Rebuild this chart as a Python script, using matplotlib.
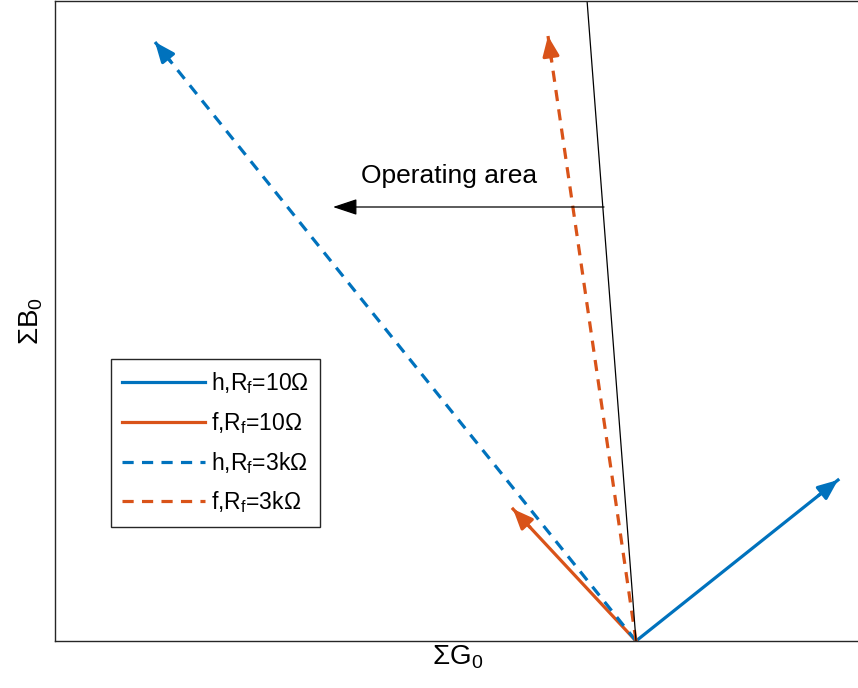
import numpy as np
import matplotlib
matplotlib.use('Agg')
import matplotlib.pyplot as plt

plt.rcParams['font.family'] = ['Liberation Sans', 'DejaVu Sans']
plt.rcParams['mathtext.fontset'] = 'custom'
plt.rcParams['mathtext.rm'] = 'Liberation Sans'
plt.rcParams['mathtext.it'] = 'Liberation Sans'

# vector tips (origin at 0,0), arbitrary units
LABELS = ['h,R$_\\mathrm{f}$=10\u03a9', 'f,R$_\\mathrm{f}$=10\u03a9',
          'h,R$_\\mathrm{f}$=3k\u03a9', 'f,R$_\\mathrm{f}$=3k\u03a9']
TIP_X = [2.02, -1.23, -4.81, -0.88]
TIP_Y = [1.61, 1.32, 5.99, 6.05]
COLORS = ['#0072BD', '#D95319', '#0072BD', '#D95319']
STYLES = ['-', '-', '--', '--']

# boundary line and operating area arrow
BOUND_X = [0.0, -0.49]
BOUND_Y = [0.0, 6.41]
AREA_START = (-0.32, 4.34)
AREA_END = (-3.03, 4.34)
AREA_TEXT = (-1.87, 4.65)

fig = plt.figure(figsize=(8.58, 6.88), dpi=100)
ax = fig.add_axes([55/858, 47/688, 805/858, 640/688])
ax.set_xlim(-5.81, 2.24)
ax.set_ylim(0, 6.4)
ax.set_xticks([])
ax.set_yticks([])
for s in ax.spines.values():
    s.set_color('#262626')
    s.set_linewidth(1.0)

handles = []
for x, y, c, ls, lab in zip(TIP_X, TIP_Y, COLORS, STYLES, LABELS):
    ln, = ax.plot([0, x], [0, y], color=c, linestyle=ls, linewidth=2.3,
                  dashes=(3.5, 2.6) if ls == '--' else (None, None), label=lab)
    handles.append(ln)
    # arrow head
    L = np.hypot(x, y)
    bx, by = x - 0.25 * x / L, y - 0.25 * y / L
    ax.annotate('', xy=(x, y), xytext=(bx, by),
                arrowprops=dict(arrowstyle='-|>,head_length=1.2,head_width=0.5',
                                color=c, lw=2.3, shrinkA=0, shrinkB=0))

ax.plot(BOUND_X, BOUND_Y, color='black', linewidth=0.9)
ax.annotate('', xy=AREA_END, xytext=AREA_START,
            arrowprops=dict(arrowstyle='-|>,head_length=1.5,head_width=0.5',
                            color='black', lw=0.9, shrinkA=0, shrinkB=0))
ax.text(AREA_TEXT[0], AREA_TEXT[1], 'Operating area', fontsize=19,
        ha='center', va='center')

ax.set_xlabel('\u03a3G$_0$', fontsize=20, labelpad=2)
ax.set_ylabel('\u03a3B$_0$', fontsize=20, labelpad=7)

leg = ax.legend(handles=handles, loc='upper left',
                bbox_to_anchor=(111/858, 1 - 359/688), bbox_transform=fig.transFigure,
                fontsize=16.5, fancybox=False, framealpha=1, edgecolor='#262626',
                handlelength=3.6, handletextpad=0.25, labelspacing=0.6,
                borderpad=0.5, borderaxespad=0)
leg.get_frame().set_linewidth(1.0)

fig.savefig('out.png', dpi=100)
